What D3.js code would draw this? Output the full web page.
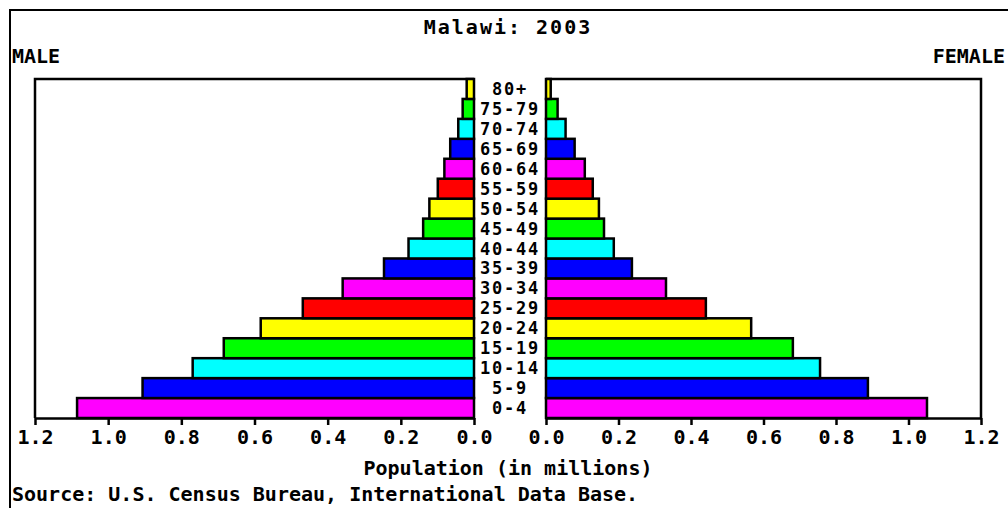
<!DOCTYPE html>
<html>
<head>
<meta charset="utf-8">
<script src="https://cdn.jsdelivr.net/npm/d3@7"></script>
<style>
  body { margin: 0; background: #fff; }
  svg text { font-family: "DejaVu Sans Mono", monospace; font-weight: bold; fill: #000; }
</style>
</head>
<body>
<div class="container"></div>
<script>
var w = 1008;
var h = 508;

// age groups, youngest first
var ages = ["0-4", "5-9", "10-14", "15-19", "20-24", "25-29", "30-34", "35-39", "40-44",
  "45-49", "50-54", "55-59", "60-64", "65-69", "70-74", "75-79", "80+"];
// population in millions
var male = [1.085, 0.906, 0.769, 0.684, 0.583, 0.468, 0.359, 0.246, 0.179,
  0.139, 0.122, 0.099, 0.081, 0.065, 0.043, 0.031, 0.020];
var female = [1.051, 0.888, 0.756, 0.681, 0.566, 0.441, 0.331, 0.237, 0.187,
  0.160, 0.146, 0.129, 0.107, 0.079, 0.054, 0.032, 0.013];
var barColors = ["#ff00ff", "#0000ff", "#00ffff", "#00ff00", "#ffff00", "#ff0000"];
var ticks = [0, 0.2, 0.4, 0.6, 0.8, 1.0, 1.2];

var canvas = d3.select(".container")
  .append("svg")
  .attr("width", w)
  .attr("height", h);

// outer frame
canvas.append("rect")
  .attr("x", 10).attr("y", 10)
  .attr("width", 1010).attr("height", 510)
  .attr("fill", "none").attr("stroke", "#000").attr("stroke-width", 2);

var plotTop = 79, plotBottom = 418;
var xMale = d3.scaleLinear().domain([0, 1.2]).range([474, 35]);
var xFemale = d3.scaleLinear().domain([0, 1.2]).range([546, 981]);
var y = d3.scaleBand().domain(ages.slice().reverse()).range([plotTop, plotBottom]);

var rows = ages.map((a, i) => ({ age: a, m: male[i], f: female[i], c: barColors[i % 6] }));

// panel frames
canvas.append("path")
  .attr("d", "M" + xMale(1.2) + "," + plotBottom + "V" + plotTop + "H" + xMale(0))
  .attr("fill", "none").attr("stroke", "#000").attr("stroke-width", 2.5);
canvas.append("path")
  .attr("d", "M" + xFemale(0) + "," + plotTop + "H" + xFemale(1.2) + "V" + plotBottom)
  .attr("fill", "none").attr("stroke", "#000").attr("stroke-width", 2.5);

//male bars
canvas.append("g").selectAll("rect")
  .data(rows)
  .enter()
  .append("rect")
  .attr("x", d => xMale(d.m))
  .attr("y", d => y(d.age))
  .attr("width", d => xMale(0) - xMale(d.m))
  .attr("height", y.bandwidth())
  .attr("fill", d => d.c)
  .attr("stroke", "#000")
  .attr("stroke-width", 2.5);

//female bars
canvas.append("g").selectAll("rect")
  .data(rows)
  .enter()
  .append("rect")
  .attr("x", xFemale(0))
  .attr("y", d => y(d.age))
  .attr("width", d => xFemale(d.f) - xFemale(0))
  .attr("height", y.bandwidth())
  .attr("fill", d => d.c)
  .attr("stroke", "#000")
  .attr("stroke-width", 2.5);

// age labels
canvas.append("g").selectAll("text")
  .data(rows)
  .enter()
  .append("text")
  .attr("x", 510)
  .attr("y", d => y(d.age) + y.bandwidth() / 2 + 6)
  .attr("text-anchor", "middle")
  .style("font-size", "17px")
  .style("letter-spacing", "1.8px")
  .text(d => d.age);

function styleAxis(g) {
  g.select(".domain").attr("stroke-width", 2.5);
  g.selectAll(".tick line").attr("stroke-width", 2.5);
  g.selectAll(".tick text")
    .style("font-family", "DejaVu Sans Mono, monospace")
    .style("font-weight", "bold")
    .style("font-size", "20px")
    .attr("y", 12);
}

canvas.append("g")
  .attr("transform", "translate(0," + plotBottom + ")")
  .call(d3.axisBottom(xMale).tickValues(ticks).tickFormat(d3.format(".1f")).tickSize(7).tickSizeOuter(0))
  .call(styleAxis);

canvas.append("g")
  .attr("transform", "translate(0," + plotBottom + ")")
  .call(d3.axisBottom(xFemale).tickValues(ticks).tickFormat(d3.format(".1f")).tickSize(7).tickSizeOuter(0))
  .call(styleAxis);

// titles
canvas.append("text")
  .attr("x", 508).attr("y", 34)
  .attr("text-anchor", "middle")
  .style("font-size", "20px")
  .style("letter-spacing", "2px")
  .text("Malawi: 2003");

canvas.append("text")
  .attr("x", 12).attr("y", 63)
  .style("font-size", "20px")
  .text("MALE");

canvas.append("text")
  .attr("x", 1005).attr("y", 63)
  .attr("text-anchor", "end")
  .style("font-size", "20px")
  .text("FEMALE");

canvas.append("text")
  .attr("x", 508).attr("y", 475)
  .attr("text-anchor", "middle")
  .style("font-size", "20px")
  .text("Population (in millions)");

canvas.append("text")
  .attr("x", 12).attr("y", 501)
  .style("font-size", "20px")
  .text("Source: U.S. Census Bureau, International Data Base.");
</script>
</body>
</html>
